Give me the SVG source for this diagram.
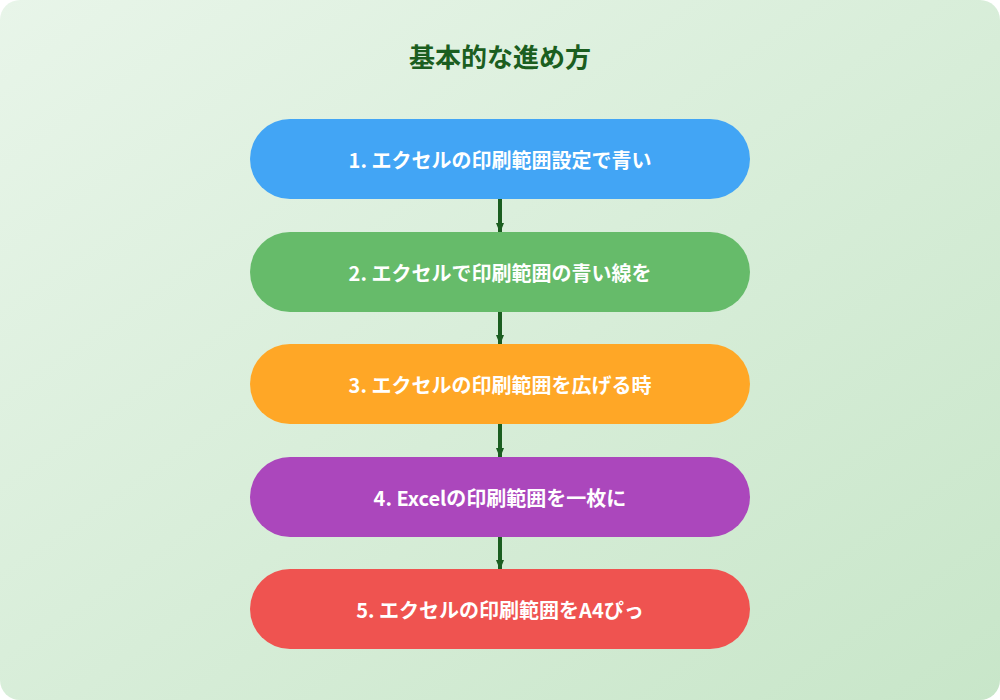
<svg xmlns="http://www.w3.org/2000/svg" width="1000" height="700" viewBox="0 0 1000 700">
<defs>
<linearGradient id="bg" x1="0" y1="0" x2="1" y2="1"><stop offset="0" stop-color="#e8f5e9"/><stop offset="1" stop-color="#c8e6c9"/></linearGradient>
<marker id="ah" markerWidth="10" markerHeight="8" refX="9" refY="4" orient="auto" markerUnits="userSpaceOnUse"><path d="M0,0 L10,4 L0,8 Z" fill="#1b5e20"/></marker>
<style>
.t{font-family:"Noto Sans CJK JP","Noto Sans",sans-serif;font-weight:bold;fill:#fff;font-size:20px;text-anchor:middle;dominant-baseline:central}
.c{stroke:#1b5e20;stroke-width:4;fill:none}
</style>
</defs>
<rect x="0" y="0" width="1000" height="700" rx="20" fill="url(#bg)"/>
<text x="500" y="55" font-family="Noto Sans CJK JP,sans-serif" font-weight="bold" font-size="26" fill="#1b5e20" text-anchor="middle" dominant-baseline="central">基本的な進め方</text>
<g id="connectors">
<line class="c" x1="500" y1="199" x2="500" y2="232" marker-end="url(#ah)"/>
<line class="c" x1="500" y1="312" x2="500" y2="344" marker-end="url(#ah)"/>
<line class="c" x1="500" y1="424" x2="500" y2="457" marker-end="url(#ah)"/>
<line class="c" x1="500" y1="537" x2="500" y2="569" marker-end="url(#ah)"/>
</g>
<g id="n1"><rect x="250" y="119" width="500" height="80" rx="40" fill="#42a5f5"/><text class="t" x="500" y="159">1. エクセルの印刷範囲設定で青い</text></g>
<g id="n2"><rect x="250" y="232" width="500" height="80" rx="40" fill="#66bb6a"/><text class="t" x="500" y="272">2. エクセルで印刷範囲の青い線を</text></g>
<g id="n3"><rect x="250" y="344" width="500" height="80" rx="40" fill="#ffa726"/><text class="t" x="500" y="384">3. エクセルの印刷範囲を広げる時</text></g>
<g id="n4"><rect x="250" y="457" width="500" height="80" rx="40" fill="#ab47bc"/><text class="t" x="500" y="497">4. Excelの印刷範囲を一枚に</text></g>
<g id="n5"><rect x="250" y="569" width="500" height="80" rx="40" fill="#ef5350"/><text class="t" x="500" y="609">5. エクセルの印刷範囲をA4ぴっ</text></g>
</svg>
